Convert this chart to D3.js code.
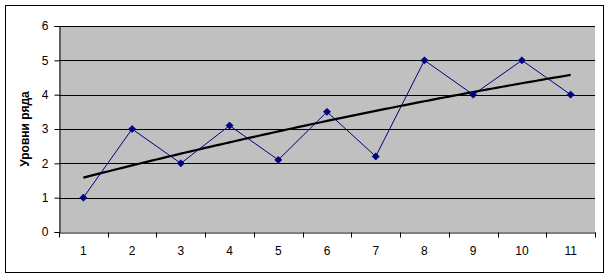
<!DOCTYPE html>
<html>
<head>
<meta charset="utf-8">
<script src="https://cdn.jsdelivr.net/npm/d3@7"></script>
<style>
  body { margin: 0; background: #fff; }
  text { font-family: "Liberation Sans", Arial, sans-serif; }
</style>
</head>
<body>
<svg id="chart" width="611" height="279"></svg>
<script>
var categories = [1, 2, 3, 4, 5, 6, 7, 8, 9, 10, 11];
var levels = [1, 3, 2, 3.1, 2.1, 3.5, 2.2, 5, 4, 5, 4];
var yTicks = [0, 1, 2, 3, 4, 5, 6];
var yTitle = "Уровни ряда";

// 2nd order polynomial trend, same as the spreadsheet does
function polyTrend(xs, ys){
    var n = xs.length;
    var mx = d3.mean(xs);
    var t = xs.map(x => x - mx);
    var st2 = d3.sum(t, v => v * v);
    var st4 = d3.sum(t, v => v * v * v * v);
    var sy = d3.sum(ys);
    var sty = d3.sum(t, (v, i) => v * ys[i]);
    var st2y = d3.sum(t, (v, i) => v * v * ys[i]);
    var b = sty / st2;
    var c = (st2y - st2 * sy / n) / (st4 - st2 * st2 / n);
    var a = (sy - c * st2) / n;
    return x => a + b * (x - mx) + c * (x - mx) * (x - mx);
}

function drawChart(){
    var svg = d3.select("#chart");
    var padding = {
        top: 26,
        right: 16,
        bottom: 47,
        left: 59
    };
    var width = +svg.attr("width");
    var height = +svg.attr("height");

    svg.append("rect")
        .attr("x", 5.5)
        .attr("y", 5.5)
        .attr("width", 598)
        .attr("height", 267)
        .attr("fill", "#fff")
        .attr("stroke", "#000")
        .attr("stroke-width", 1);

    var x = d3.scaleBand()
                .domain(categories)
                .range([padding.left, width - padding.right]);
    var y = d3.scaleLinear()
                .domain([0, 6])
                .range([height - padding.bottom, padding.top]);
    var cx = d => x(d) + x.bandwidth() / 2;

    svg.append("rect")
        .attr("x", padding.left)
        .attr("y", padding.top)
        .attr("width", width - padding.left - padding.right)
        .attr("height", height - padding.top - padding.bottom)
        .attr("fill", "#c0c0c0");

    svg.append("g")
        .selectAll("line")
        .data(yTicks.slice(1))
        .join("line")
            .attr("x1", padding.left)
            .attr("x2", width - padding.right)
            .attr("y1", d => Math.round(y(d)) + 0.5)
            .attr("y2", d => Math.round(y(d)) + 0.5)
            .attr("stroke", "#000");

    var yAxis = svg.append("g")
        .attr("transform", "translate(" + (padding.left + 0.5) + ",0)")
        .call(d3.axisLeft(y).tickValues(yTicks).tickSize(5).tickPadding(6).tickFormat(d3.format("d")));
    var xAxis = svg.append("g")
        .attr("transform", "translate(0," + (Math.round(y(0)) + 0.5) + ")")
        .call(d3.axisBottom(x).tickSize(0).tickPadding(14));

    // ticks between categories
    var edges = categories.map(d => x(d)).concat([x(categories[categories.length - 1]) + x.bandwidth()]);
    xAxis.selectAll(".sep")
        .data(edges)
        .join("line")
            .classed("sep", true)
            .attr("x1", d => Math.round(d) + 0.5)
            .attr("x2", d => Math.round(d) + 0.5)
            .attr("y1", 0)
            .attr("y2", 5)
            .attr("stroke", "#000");

    [yAxis, xAxis].forEach(g => {
        g.select(".domain").attr("stroke", "#000");
        g.selectAll("line").attr("stroke", "#000");
        g.selectAll("text")
            .attr("fill", "#000")
            .style("font-size", "12px")
            .style("font-family", "'Liberation Sans', Arial, sans-serif");
    });

    svg.append("path")
        .datum(levels)
        .attr("fill", "none")
        .attr("stroke", "#000080")
        .attr("stroke-width", 1)
        .attr("d", d3.line().x((d, i) => cx(categories[i])).y(d => y(d)));

    var trend = polyTrend(categories, levels);
    var fine = d3.range(0, 101).map(i => 1 + i * 0.1);
    var tx = d3.scaleLinear().domain([1, 11]).range([cx(1), cx(11)]);
    svg.append("path")
        .datum(fine)
        .attr("fill", "none")
        .attr("stroke", "#000")
        .attr("stroke-width", 2.2)
        .attr("d", d3.line().x(d => tx(d)).y(d => y(trend(d))));

    // square-ish diamond marker like the spreadsheet one
    var r = 3.6;
    var diamond = "M0," + (-r) + "L" + r + ",0L0," + r + "L" + (-r) + ",0Z";
    svg.append("g")
        .selectAll("path")
        .data(levels)
        .join("path")
            .attr("transform", (d, i) => "translate(" + cx(categories[i]) + "," + y(d) + ")")
            .attr("d", diamond)
            .attr("fill", "#000080")
            .attr("stroke", "#000080")
            .attr("stroke-width", 0.6)
            .attr("stroke-linejoin", "round");

    svg.append("text")
        .attr("transform", "rotate(-90)")
        .attr("x", -(padding.top + (height - padding.top - padding.bottom) / 2))
        .attr("y", 29)
        .style("text-anchor", "middle")
        .style("font-size", "12px")
        .style("font-weight", "bold")
        .text(yTitle);
}

drawChart();
</script>
</body>
</html>
